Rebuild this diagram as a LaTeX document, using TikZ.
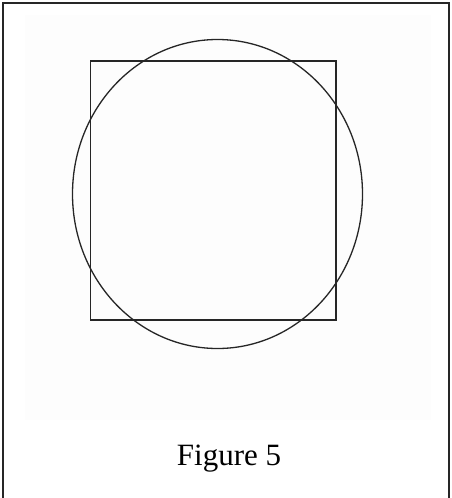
\documentclass[tikz,border=0pt]{standalone}
\usepackage{fontspec}
\setmainfont{Liberation Serif}
\definecolor{panelbg}{RGB}{253,253,253}
\begin{document}
\begin{tikzpicture}[x=1pt,y=-1pt,
  shape line/.style={draw=black!85, line width=1.3pt},
  frame line/.style={draw=black!85, line width=2pt}]
\useasboundingbox (0,0) rectangle (451,498);
\clip (0,0) rectangle (451,498);
\fill[panelbg] (25,15) rectangle (431,420);
\draw[shape line] (90.5,61) rectangle (336,320);
\draw[shape line] (217.5,194) ellipse [x radius=145, y radius=154.5];
\node[font=\fontsize{31}{36}\selectfont, anchor=base] (caption) at (229,465) {Figure 5};
\draw[frame line] (2.5,3) rectangle (449,502);
\end{tikzpicture}
\end{document}
